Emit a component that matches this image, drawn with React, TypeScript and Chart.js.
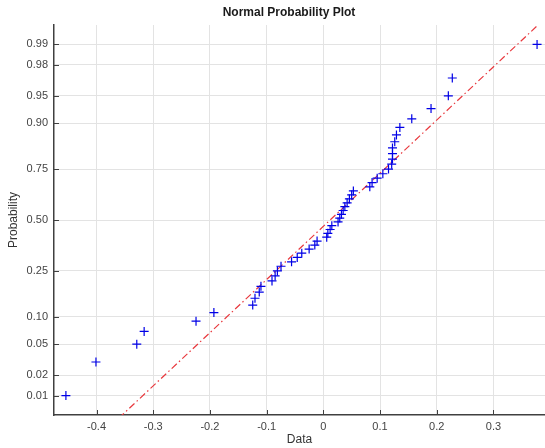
import React, { useEffect, useRef } from "react";
import { Chart, registerables } from "chart.js";

Chart.register(...registerables);

// Sorted sample values
const dataValues = [
  -0.454, -0.401, -0.329, -0.316, -0.2245, -0.193, -0.1245, -0.1205, -0.113, -0.11,
  -0.0905, -0.085, -0.081, -0.0746, -0.056, -0.046, -0.038, -0.025, -0.015, -0.011,
  0.006, 0.008, 0.012, 0.015, 0.026, 0.029, 0.032, 0.035, 0.038, 0.042,
  0.046, 0.05, 0.053, 0.082, 0.086, 0.095, 0.105, 0.115, 0.1206, 0.122,
  0.122, 0.122, 0.126, 0.129, 0.135, 0.156, 0.19, 0.2205, 0.2275, 0.377,
];
// Plotting positions (probabilities) for each sorted value
const plotProbs = [
  0.01, 0.03, 0.05, 0.07, 0.09, 0.11, 0.13, 0.15, 0.17, 0.19,
  0.21, 0.23, 0.25, 0.27, 0.29, 0.31, 0.33, 0.35, 0.37, 0.39,
  0.41, 0.43, 0.45, 0.47, 0.49, 0.51, 0.53, 0.55, 0.57, 0.59,
  0.61, 0.63, 0.65, 0.67, 0.69, 0.71, 0.73, 0.75, 0.77, 0.79,
  0.81, 0.83, 0.85, 0.87, 0.89, 0.91, 0.93, 0.95, 0.97, 0.99,
];
// Reference line (fitted normal) parameters
const refMu = 0.012;
const refSigma = 0.142;
// Axis ticks
const yTickProbs = [0.01, 0.02, 0.05, 0.1, 0.25, 0.5, 0.75, 0.9, 0.95, 0.98, 0.99];
const yTickLabels = ["0.01", "0.02", "0.05", "0.10", "0.25", "0.50", "0.75", "0.90", "0.95", "0.98", "0.99"];
const xTicks = [-0.4, -0.3, -0.2, -0.1, 0, 0.1, 0.2, 0.3];
const xRange = [-0.475, 0.391];
const zRange = [-2.583, 2.583];

function probit(p: number): number {
  const a = [-3.969683028665376e1, 2.209460984245205e2, -2.759285104469687e2, 1.38357751867269e2, -3.066479806614716e1, 2.506628277459239];
  const b = [-5.447609879822406e1, 1.615858368580409e2, -1.556989798598866e2, 6.680131188771972e1, -1.328068155092442e1];
  const c = [-7.784894002430293e-3, -3.223964580411365e-1, -2.400758277161838, -2.549732539343734, 4.374664141464968, 2.938163982698783];
  const d = [7.784695709862033e-3, 3.224671290700398e-1, 2.445134137142996, 3.754408661907416];
  const plow = 0.02425;
  if (p < plow) {
    const q = Math.sqrt(-2 * Math.log(p));
    return (((((c[0] * q + c[1]) * q + c[2]) * q + c[3]) * q + c[4]) * q + c[5]) / ((((d[0] * q + d[1]) * q + d[2]) * q + d[3]) * q + 1);
  }
  if (p <= 1 - plow) {
    const q = p - 0.5;
    const r = q * q;
    return ((((((a[0] * r + a[1]) * r + a[2]) * r + a[3]) * r + a[4]) * r + a[5]) * q) / (((((b[0] * r + b[1]) * r + b[2]) * r + b[3]) * r + b[4]) * r + 1);
  }
  const q = Math.sqrt(-2 * Math.log(1 - p));
  return -(((((c[0] * q + c[1]) * q + c[2]) * q + c[3]) * q + c[4]) * q + c[5]) / ((((d[0] * q + d[1]) * q + d[2]) * q + d[3]) * q + 1);
}

const FONT = "'Liberation Sans', Arial, Helvetica, sans-serif";

const decorPlugin = {
  id: "decor",
  afterDraw(chart: any) {
    const { ctx, chartArea, scales } = chart;
    ctx.save();
    // inside tick marks
    ctx.strokeStyle = "#404040";
    ctx.lineWidth = 1;
    ctx.beginPath();
    for (const p of yTickProbs) {
      const y = Math.round(scales.y.getPixelForValue(probit(p))) + 0.5;
      ctx.moveTo(chartArea.left, y);
      ctx.lineTo(chartArea.left + 5, y);
    }
    for (const t of xTicks) {
      const x = Math.round(scales.x.getPixelForValue(t)) + 0.5;
      ctx.moveTo(x, chartArea.bottom);
      ctx.lineTo(x, chartArea.bottom - 5);
    }
    ctx.stroke();
    // titles
    ctx.fillStyle = "#1a1a1a";
    ctx.textAlign = "center";
    ctx.textBaseline = "middle";
    ctx.font = `bold 12px ${FONT}`;
    ctx.fillText("Normal Probability Plot", 289, 13);
    ctx.fillStyle = "#333";
    ctx.font = `12px ${FONT}`;
    ctx.fillText("Data", (chartArea.left + chartArea.right) / 2, 440);
    ctx.translate(14, (chartArea.top + chartArea.bottom) / 2);
    ctx.rotate(-Math.PI / 2);
    ctx.fillText("Probability", 0, 0);
    ctx.restore();
  },
};

export default function App() {
  const ref = useRef<HTMLCanvasElement | null>(null);
  useEffect(() => {
    if (!ref.current) return;
    const pts = dataValues.map((v, i) => ({ x: v, y: probit(plotProbs[i]) }));
    const xmin = dataValues[0];
    const xmax = dataValues[dataValues.length - 1];
    const refPts = [
      { x: xmin, y: (xmin - refMu) / refSigma },
      { x: xmax, y: (xmax - refMu) / refSigma },
    ];
    const chart = new Chart(ref.current, {
      type: "scatter",
      data: {
        datasets: [
          {
            label: "data",
            data: pts,
            pointStyle: "cross",
            pointRadius: 4.5,
            pointBorderWidth: 1.2,
            borderColor: "#0000e6",
            backgroundColor: "#0000e6",
            order: 1,
          },
          {
            label: "ref",
            type: "line",
            data: refPts,
            borderColor: "#e8383d",
            borderWidth: 1.2,
            borderDash: [7, 3, 1.5, 3],
            pointRadius: 0,
            fill: false,
            order: 2,
          } as any,
        ],
      },
      options: {
        animation: false,
        responsive: false,
        layout: { autoPadding: false, padding: { top: 25, right: 0, left: 0, bottom: 0 } },
        plugins: { legend: { display: false }, tooltip: { enabled: false }, title: { display: false } },
        scales: {
          x: {
            type: "linear",
            min: xRange[0],
            max: xRange[1],
            afterBuildTicks: (s: any) => {
              s.ticks = xTicks.map((v) => ({ value: v }));
            },
            afterFit: (s: any) => {
              s.height = 33;
              s.paddingLeft = 0;
              s.paddingRight = 0;
            },
            ticks: {
              padding: 5,
              color: "#444",
              font: { family: FONT, size: 11 },
              callback: (v: any) => {
                const n = Number(v);
                return Math.abs(n) < 1e-9 ? "0" : String(Math.round(n * 10) / 10);
              },
            },
            grid: { color: "#e3e3e3", lineWidth: 1, drawTicks: false },
            border: { display: true, color: "#404040", width: 1.5 },
          },
          y: {
            type: "linear",
            min: zRange[0],
            max: zRange[1],
            afterBuildTicks: (s: any) => {
              s.ticks = yTickProbs.map((p) => ({ value: probit(p) }));
            },
            afterFit: (s: any) => {
              s.width = 54;
              s.paddingTop = 0;
              s.paddingBottom = 0;
            },
            ticks: {
              padding: 6,
              color: "#444",
              font: { family: FONT, size: 11 },
              callback: (_v: any, i: number) => yTickLabels[i],
            },
            grid: { color: "#e3e3e3", lineWidth: 1, drawTicks: false },
            border: { display: true, color: "#404040", width: 1.5 },
          },
        },
      },
      plugins: [decorPlugin],
    });
    return () => chart.destroy();
  }, []);
  return (
    <div style={{ position: "fixed", left: 0, top: 0, width: 545, height: 448, background: "#fff" }}>
      <canvas ref={ref} width={545} height={448} style={{ display: "block" }} />
    </div>
  );
}
